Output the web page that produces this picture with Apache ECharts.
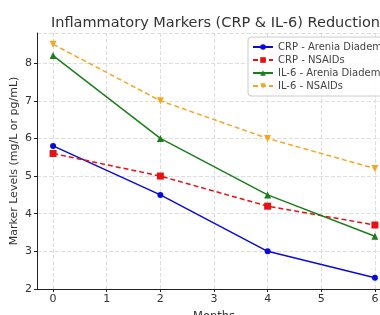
<!DOCTYPE html>
<html><head><meta charset="utf-8">
<script src="https://cdn.jsdelivr.net/npm/echarts@6/dist/echarts.min.js"></script>
<style>html,body{margin:0;padding:0;background:#fff}#c{width:380px;height:315px}</style>
</head><body><div id="c"></div>
<script>
const months = [0, 2, 4, 6];
const crpArenia = [5.8, 4.5, 3.0, 2.3];
const crpNsaids = [5.6, 5.0, 4.2, 3.7];
const il6Arenia = [8.2, 6.0, 4.5, 3.4];
const il6Nsaids = [8.5, 7.0, 6.0, 5.2];
const xTicks = [0, 1, 2, 3, 4, 5, 6];
const names = ['CRP - Arenia Diademia', 'CRP - NSAIDs', 'IL-6 - Arenia Diademia', 'IL-6 - NSAIDs'];

const pair = (ys) => months.map((m, i) => [m, ys[i]]);
const font = 'DejaVu Sans';
const chart = echarts.init(document.getElementById('c'), null, {renderer: 'canvas'});
const mk = (name, data, color, symbol, dashed) => ({
  name, type: 'line', data: pair(data), symbol, symbolSize: symbol === 'circle' ? 6 : 7,
  lineStyle: {color, width: 1.5, type: dashed ? [5, 3] : 'solid'},
  itemStyle: {color}, emphasis: {disabled: true}, z: 3
});
chart.setOption({
  animation: false,
  title: {text: 'Inflammatory Markers (CRP & IL-6) Reduction', left: 46, top: 11,
    textStyle: {fontFamily: font, fontSize: 14.5, fontWeight: 'normal', color: '#333'}},
  grid: {left: 37, right: -11, top: 33, bottom: 26, show: false,
    containLabel: false, outerBoundsMode: 'none'},
  legend: {data: names, orient: 'vertical', left: 248, top: 37, itemGap: 3, itemWidth: 20, itemHeight: 7,
    backgroundColor: 'rgba(255,255,255,0.85)', borderColor: '#ccc', borderWidth: 1, borderRadius: 3,
    padding: [5, 6, 5, 4],
    textStyle: {fontFamily: font, fontSize: 10, color: '#444'}},
  xAxis: {type: 'value', min: -0.3, max: 6.3,
    name: 'Months', nameLocation: 'middle', nameGap: 22, nameMoveOverlap: false,
    nameTextStyle: {fontFamily: font, fontSize: 11.5, color: '#333'},
    axisLine: {onZero: false, lineStyle: {color: '#222'}},
    axisTick: {show: true, length: 3, customValues: xTicks, lineStyle: {color: '#222'}},
    axisLabel: {fontFamily: font, fontSize: 11, color: '#333', margin: 5, customValues: xTicks},
    splitLine: {show: true, lineStyle: {color: '#ddd', type: 'dashed'}}},
  yAxis: {type: 'value', min: 2, max: 8.8, interval: 1,
    name: 'Marker Levels (mg/L or pg/mL)', nameLocation: 'middle', nameGap: 17, nameMoveOverlap: false,
    nameTextStyle: {fontFamily: font, fontSize: 11, color: '#333'},
    axisLine: {show: true, onZero: false, lineStyle: {color: '#222'}},
    axisTick: {show: true, length: 3, lineStyle: {color: '#222'}},
    axisLabel: {fontFamily: font, fontSize: 11, color: '#333', margin: 5, showMaxLabel: false},
    splitLine: {show: true, lineStyle: {color: '#ddd', type: 'dashed'}}},
  series: [
    mk(names[0], crpArenia, '#0a0ad8', 'circle', false),
    mk(names[1], crpNsaids, '#e81010', 'rect', true),
    mk(names[2], il6Arenia, '#1a7f1a', 'triangle', false),
    mk(names[3], il6Nsaids, '#f5a623', 'path://M0,0 L10,0 L5,9 Z', true)
  ]
});
</script></body></html>
